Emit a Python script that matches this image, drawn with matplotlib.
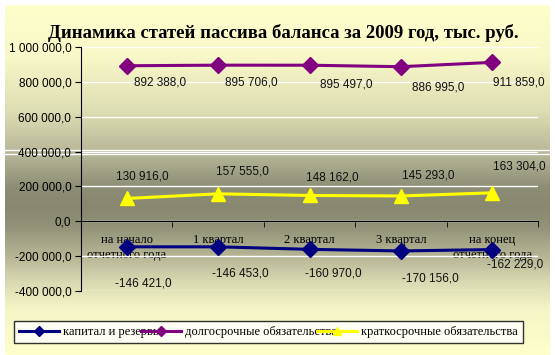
import numpy as np
import matplotlib
matplotlib.use('Agg')
import matplotlib.pyplot as plt
from matplotlib.colors import LinearSegmentedColormap
from matplotlib.ticker import FuncFormatter, MultipleLocator, FixedLocator
from matplotlib.lines import Line2D

# data
categories = ['на начало\nотчетного года', '1 квартал', '2 квартал', '3 квартал', 'на конец\nотчетного года']
capital = [-146421, -146453, -160970, -170156, -162229]
long_term = [892388, 895706, 895497, 886995, 911859]
short_term = [130916, 157555, 148162, 145293, 163304]
series_names = ['капитал и резервы', 'долгосрочные обязательства', 'краткосрочные обязательства']

# label offsets in pixels (x right, y up) relative to the marker
off_capital = [(17, -37), (22, -27), (24, -24), (29, -28), (23, -15)]
off_long = [(33, -17), (33, -17), (37, -19), (37, -21), (27, -20)]
off_short = [(16, 22), (24, 22), (23, 18), (27, 20), (27, 26)]

W, H = 555, 355
fig = plt.figure(figsize=(W / 100, H / 100), dpi=100)
fig.patch.set_facecolor('white')

# gradient background
bg = fig.add_axes([5 / W, 0, 545 / W, 350 / H], zorder=-5)
stops = [(0.0, '#FFFFCC'), (0.14, '#F8F8C8'), (0.30, '#DEDEB4'), (0.43, '#B4B496'),
         (0.52, '#8E8E76'), (0.58, '#888870'), (0.64, '#94947A'), (0.72, '#B6B696'),
         (0.80, '#DCDCB4'), (0.87, '#F4F4C6'), (1.0, '#FFFFCC')]
cmap = LinearSegmentedColormap.from_list('bg', stops)
grad = np.linspace(0, 1, 400).reshape(-1, 1)
bg.imshow(grad, aspect='auto', cmap=cmap, extent=[0, 1, 0, 1], origin='upper')
bg.set_axis_off()

# stray white lines of the background
for ypx in (150, 154):
    fig.add_artist(Line2D([5 / W, 550 / W], [1 - ypx / H, 1 - ypx / H],
                          transform=fig.transFigure, color='white', lw=1, zorder=-4))

ax = fig.add_axes([81 / W, 1 - 291 / H, (538 - 81) / W, (291 - 47) / H])
ax.set_facecolor('none')

x = np.arange(len(categories))
ax.plot(x, capital, color='#000080', lw=2.2, marker='D', ms=8, label=series_names[0], zorder=3)
ax.plot(x, long_term, color='#800080', lw=2.2, marker='D', ms=8, label=series_names[1], zorder=3)
ax.plot(x, short_term, color='#FFFF00', lw=2.2, marker='^', ms=10, label=series_names[2], zorder=3)

def fmt(v):
    return f'{v:,.1f}'.replace(',', ' ').replace('.', ',')

for vals, offs in ((capital, off_capital), (long_term, off_long), (short_term, off_short)):
    for i, v in enumerate(vals):
        ax.annotate(fmt(v), (x[i], v), xytext=offs[i], textcoords='offset pixels',
                    ha='center', va='center', fontsize=8.5, family='Liberation Sans',
                    color='#111111', zorder=4)

ax.set_xlim(-0.5, 4.5)
ax.set_ylim(-400000, 1000000)
ax.yaxis.set_major_locator(MultipleLocator(200000))
ax.yaxis.set_major_formatter(FuncFormatter(lambda v, p: fmt(v)))
ax.grid(axis='y', color='white', lw=1)
ax.set_axisbelow(True)

ax.spines['top'].set_visible(False)
ax.spines['right'].set_visible(False)
ax.spines['bottom'].set_position(('data', 0))
ax.spines['bottom'].set_zorder(2)

ax.set_xticks(x)
ax.set_xticklabels(categories, family='Liberation Serif', fontsize=9, linespacing=1.4)
ax.xaxis.set_minor_locator(FixedLocator(np.arange(-0.5, 5, 1)))
ax.tick_params(axis='x', which='major', length=0, pad=9)
ax.tick_params(axis='x', which='minor', length=4, direction='out')
ax.tick_params(axis='y', length=4, direction='out', pad=3, labelsize=8.5)
for t in ax.get_yticklabels():
    t.set_family('Liberation Sans')

fig.text(0.51, 1 - 33 / H, 'Динамика статей пассива баланса за 2009 год, тыс. руб.',
         ha='center', va='center', fontsize=13.5, fontweight='bold', family='Liberation Serif')

leg = fig.legend(loc='center', ncol=3, mode='expand',
                 bbox_to_anchor=(8 / W, 1 - 346 / H, 521 / W, 28 / H),
                 prop={'family': 'Liberation Serif', 'size': 9}, frameon=True,
                 fancybox=False, handlelength=3.2, handletextpad=0.3, borderpad=0.4,
                 columnspacing=0.3, markerscale=0.6)
leg.get_frame().set_edgecolor('black')
leg.get_frame().set_facecolor('white')
leg.get_frame().set_linewidth(1)

fig.savefig('out.png', dpi=100)
